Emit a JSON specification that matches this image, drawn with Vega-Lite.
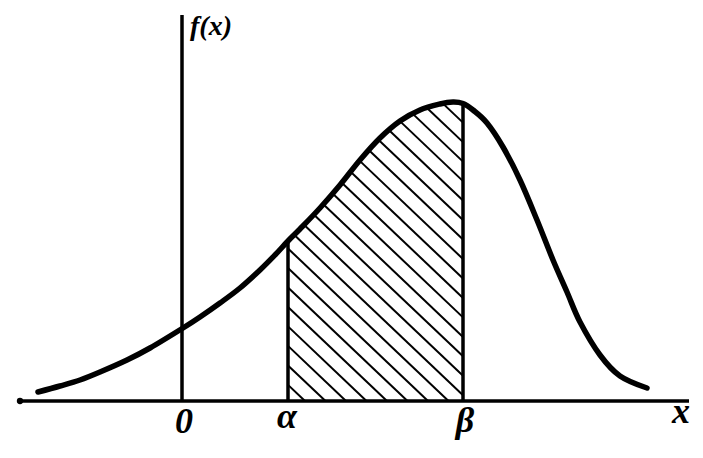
{
  "$schema": "https://vega.github.io/schema/vega-lite/v6.json",
  "width": 703,
  "height": 458,
  "autosize": {"type": "fit", "contains": "padding"},
  "padding": 0,
  "background": "white",
  "config": {"view": {"stroke": null}},
  "datasets": {
    "curve": [
      {"x": -2.90, "y": 0.09}, {"x": -2.46, "y": 0.15}, {"x": -2.06, "y": 0.21},
      {"x": -1.66, "y": 0.29}, {"x": -1.12, "y": 0.41}, {"x": -0.66, "y": 0.53},
      {"x": 0.00, "y": 0.73}, {"x": 0.34, "y": 0.84}, {"x": 0.74, "y": 0.98},
      {"x": 1.14, "y": 1.13}, {"x": 1.54, "y": 1.31}, {"x": 1.84, "y": 1.46},
      {"x": 2.10, "y": 1.60}, {"x": 2.34, "y": 1.72}, {"x": 2.74, "y": 1.93},
      {"x": 3.14, "y": 2.16}, {"x": 3.54, "y": 2.41}, {"x": 3.94, "y": 2.63},
      {"x": 4.34, "y": 2.80}, {"x": 4.74, "y": 2.91}, {"x": 5.14, "y": 2.97},
      {"x": 5.40, "y": 2.99}, {"x": 5.60, "y": 2.975}, {"x": 5.80, "y": 2.91},
      {"x": 6.08, "y": 2.78}, {"x": 6.40, "y": 2.54}, {"x": 6.74, "y": 2.21},
      {"x": 7.08, "y": 1.81}, {"x": 7.40, "y": 1.41}, {"x": 7.68, "y": 1.09},
      {"x": 7.94, "y": 0.79}, {"x": 8.34, "y": 0.46}, {"x": 8.74, "y": 0.25},
      {"x": 9.28, "y": 0.13}
    ],
    "hatch": [
      {"x": 2.10, "y": 0.1615, "x2": 2.44, "y2": 0},
      {"x": 2.10, "y": 0.356, "x2": 2.85, "y2": 0},
      {"x": 2.10, "y": 0.551, "x2": 3.26, "y2": 0},
      {"x": 2.10, "y": 0.746, "x2": 3.67, "y2": 0},
      {"x": 2.10, "y": 0.9405, "x2": 4.08, "y2": 0},
      {"x": 2.10, "y": 1.135, "x2": 4.49, "y2": 0},
      {"x": 2.10, "y": 1.33, "x2": 4.90, "y2": 0},
      {"x": 2.10, "y": 1.525, "x2": 5.31, "y2": 0},
      {"x": 2.222, "y": 1.662, "x2": 5.60, "y2": 0.057},
      {"x": 2.42, "y": 1.762, "x2": 5.60, "y2": 0.252},
      {"x": 2.615, "y": 1.864, "x2": 5.60, "y2": 0.4465},
      {"x": 2.806, "y": 1.968, "x2": 5.60, "y2": 0.641},
      {"x": 2.992, "y": 2.075, "x2": 5.60, "y2": 0.836},
      {"x": 3.176, "y": 2.182, "x2": 5.60, "y2": 1.031},
      {"x": 3.352, "y": 2.293, "x2": 5.60, "y2": 1.2255},
      {"x": 3.53, "y": 2.4035, "x2": 5.60, "y2": 1.42},
      {"x": 3.72, "y": 2.508, "x2": 5.60, "y2": 1.615},
      {"x": 3.908, "y": 2.613, "x2": 5.60, "y2": 1.81},
      {"x": 4.122, "y": 2.707, "x2": 5.60, "y2": 2.0045},
      {"x": 4.338, "y": 2.799, "x2": 5.60, "y2": 2.199},
      {"x": 4.596, "y": 2.871, "x2": 5.60, "y2": 2.394},
      {"x": 4.88, "y": 2.931, "x2": 5.60, "y2": 2.589},
      {"x": 5.20, "y": 2.974, "x2": 5.60, "y2": 2.7835}
    ],
    "segments": [
      {"name": "xaxis", "x": -3.30, "y": 0, "x2": 10.12, "y2": 0},
      {"name": "yaxis", "x": -0.02, "y": 0, "x2": -0.02, "y2": 3.86},
      {"name": "alpha", "x": 2.10, "y": 0, "x2": 2.10, "y2": 1.60},
      {"name": "beta", "x": 5.60, "y": 0, "x2": 5.60, "y2": 2.975}
    ],
    "dot": [{"x": -3.26, "y": 0}],
    "labels": [
      {"label": "0", "x": 0.02, "y": -0.32},
      {"label": "α", "x": 2.08, "y": -0.27},
      {"label": "β", "x": 5.64, "y": -0.31},
      {"label": "x", "x": 9.96, "y": -0.22}
    ],
    "title": [{"label": "f(x)", "x": 0.56, "y": 3.66}]
  },
  "layer": [
    {
      "data": {"name": "hatch"},
      "mark": {"type": "rule", "color": "black", "strokeWidth": 2},
      "encoding": {
        "x": {"field": "x", "type": "quantitative", "scale": {"domain": [-3.66, 10.4], "nice": false, "zero": false}, "axis": null},
        "y": {"field": "y", "type": "quantitative", "scale": {"domain": [-0.57, 4.01], "nice": false, "zero": false}, "axis": null},
        "x2": {"field": "x2"},
        "y2": {"field": "y2"}
      }
    },
    {
      "data": {"name": "segments"},
      "mark": {"type": "rule", "color": "black", "strokeWidth": 3.5},
      "encoding": {
        "x": {"field": "x", "type": "quantitative", "scale": {"domain": [-3.66, 10.4], "nice": false, "zero": false}, "axis": null},
        "y": {"field": "y", "type": "quantitative", "scale": {"domain": [-0.57, 4.01], "nice": false, "zero": false}, "axis": null},
        "x2": {"field": "x2"},
        "y2": {"field": "y2"}
      }
    },
    {
      "data": {"name": "dot"},
      "mark": {"type": "circle", "color": "black", "opacity": 1, "size": 40},
      "encoding": {
        "x": {"field": "x", "type": "quantitative", "axis": null},
        "y": {"field": "y", "type": "quantitative", "axis": null}
      }
    },
    {
      "data": {"name": "curve"},
      "mark": {"type": "line", "color": "black", "strokeWidth": 5.5, "interpolate": "cardinal", "strokeCap": "round"},
      "encoding": {
        "x": {"field": "x", "type": "quantitative", "axis": null},
        "y": {"field": "y", "type": "quantitative", "axis": null}
      }
    },
    {
      "data": {"name": "labels"},
      "mark": {"type": "text", "font": "Liberation Serif", "fontStyle": "italic", "fontWeight": "bold", "fontSize": 36, "align": "center", "baseline": "alphabetic", "color": "black"},
      "encoding": {
        "x": {"field": "x", "type": "quantitative", "axis": null},
        "y": {"field": "y", "type": "quantitative", "axis": null},
        "text": {"field": "label"}
      }
    },
    {
      "data": {"name": "title"},
      "mark": {"type": "text", "font": "Liberation Serif", "fontStyle": "italic", "fontWeight": "bold", "fontSize": 28, "align": "center", "baseline": "alphabetic", "color": "black"},
      "encoding": {
        "x": {"field": "x", "type": "quantitative", "axis": null},
        "y": {"field": "y", "type": "quantitative", "axis": null},
        "text": {"field": "label"}
      }
    }
  ]
}
